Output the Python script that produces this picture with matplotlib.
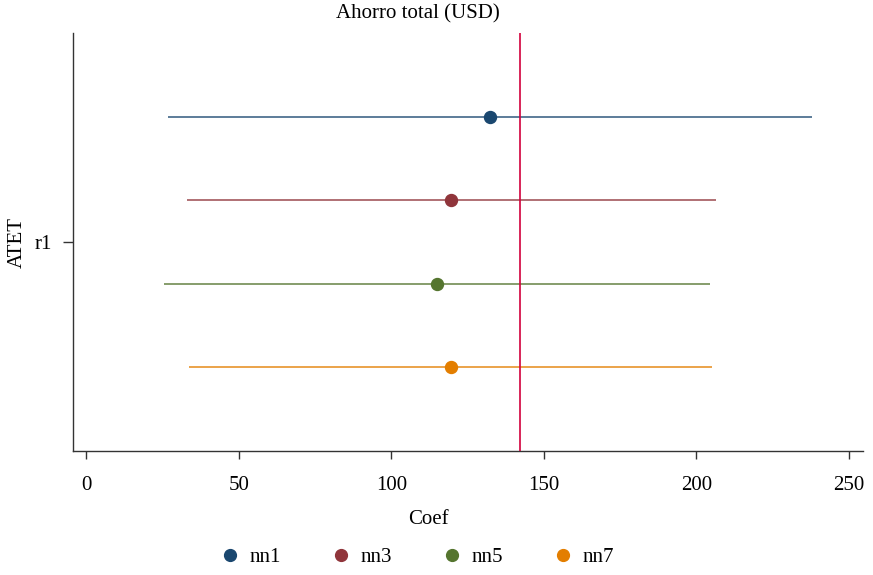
import matplotlib
matplotlib.use("Agg")
import matplotlib.pyplot as plt
from matplotlib.lines import Line2D

plt.rcParams['font.family'] = ['Liberation Serif', 'DejaVu Serif']

# estimates
models = ["nn1", "nn3", "nn5", "nn7"]
coef = [132.3, 119.6, 115.0, 119.5]
ci_low = [26.8, 33.0, 25.5, 33.8]
ci_high = [237.9, 206.5, 204.5, 205.3]
offsets = [-0.3, -0.1, 0.1, 0.3]
colors = ["#1a476f", "#90353b", "#55752f", "#e37e00"]
ref_value = 142.3
xticks = [0, 50, 100, 150, 200, 250]

fig = plt.figure(figsize=(8.73, 5.75), dpi=100)
ax = fig.add_axes([73/873, 1 - 451/575, 790/873, 418/575])

for m, c, lo, hi, off, col in zip(models, coef, ci_low, ci_high, offsets, colors):
    y = 1 + off
    ax.plot([lo, hi], [y, y], color=col, lw=1.1, alpha=0.9, solid_capstyle='butt', zorder=2)
    ax.plot(c, y, 'o', color=col, ms=8.6, zorder=4)

ax.axvline(ref_value, color="#d2003c", lw=1.2, zorder=3)

ax.set_xlim(-4.4, 254.7)
ax.set_ylim(1.5, 0.5)
ax.set_xticks(xticks)
ax.set_yticks([1])
ax.set_yticklabels(["r1"])
for s in ["top", "right"]:
    ax.spines[s].set_visible(False)
for s in ["left", "bottom"]:
    ax.spines[s].set_color("#333333")
    ax.spines[s].set_linewidth(1.0)
ax.tick_params(axis='x', length=6, width=1, color="#333333", labelsize=15, pad=12)
ax.tick_params(axis='y', length=7, width=1, color="#333333", labelsize=15, pad=8)

fig.text(417.5/873, 1 - 14/575, "Ahorro total (USD)", ha='center', va='center', fontsize=15)
fig.text(428/873, 1 - 520/575, "Coef", ha='center', va='center', fontsize=15)
fig.text(17/873, 1 - 242/575, "ATET", ha='center', va='center', rotation=90, fontsize=15)

handles = [Line2D([], [], ls='none', marker='o', color=col, ms=8.5) for col in colors]
fig.legend(handles, models, loc='center', bbox_to_anchor=(417/873, 1 - 557/575), ncol=4,
           frameon=False, fontsize=15, handlelength=1.0, handletextpad=0.45, columnspacing=2.37)

fig.savefig("out.png", dpi=100)
